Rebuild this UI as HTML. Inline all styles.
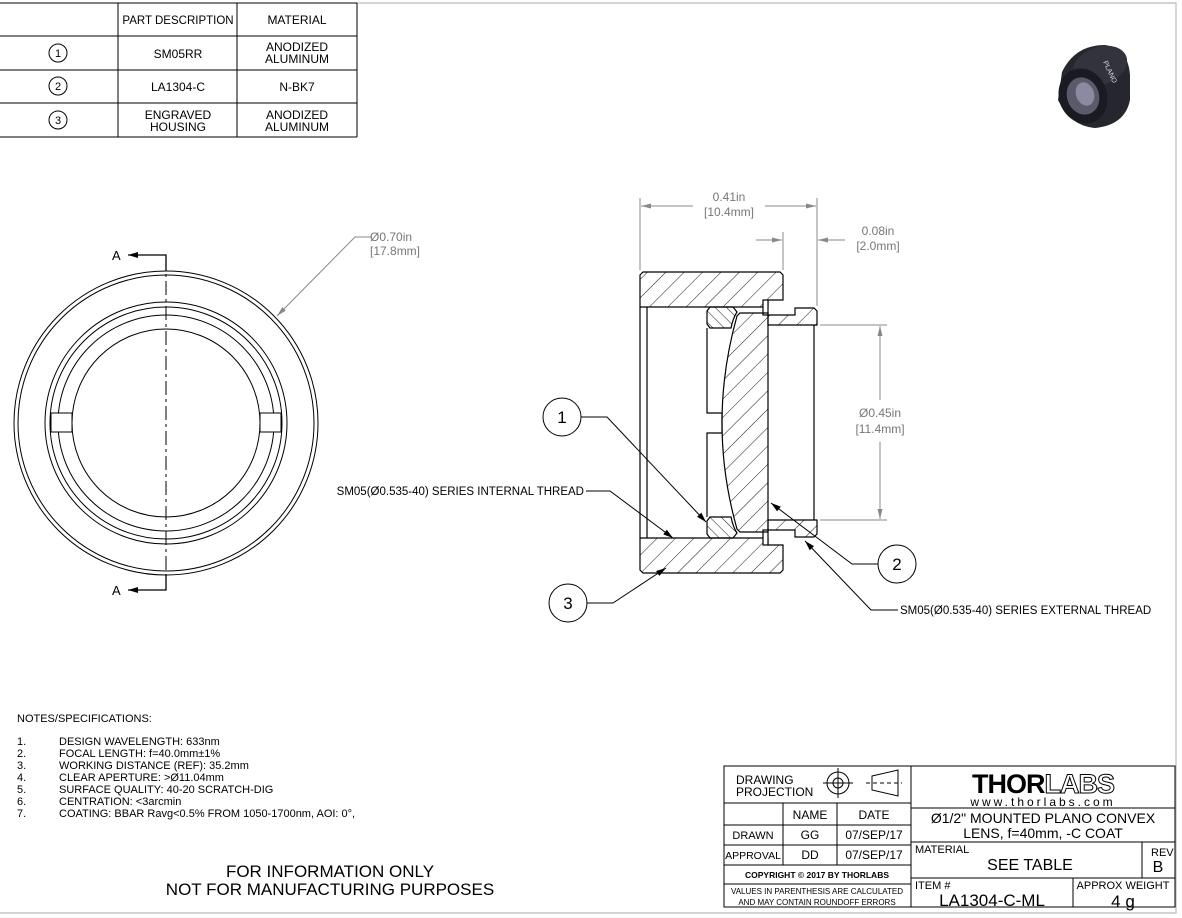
<!DOCTYPE html>
<html><head><meta charset="utf-8"><style>
html,body{margin:0;padding:0;background:#fff;}
svg{display:block;font-family:"Liberation Sans",sans-serif;}
</style></head><body>
<svg width="1182" height="918" viewBox="0 0 1182 918" xmlns="http://www.w3.org/2000/svg">
<defs>
<pattern id="h1" patternUnits="userSpaceOnUse" width="13" height="13" patternTransform="rotate(45)">
<line x1="0" y1="0" x2="0" y2="13" stroke="#000" stroke-width="0.9"/></pattern>
<pattern id="h2" patternUnits="userSpaceOnUse" width="8" height="8" patternTransform="rotate(-45)">
<line x1="0" y1="0" x2="0" y2="8" stroke="#000" stroke-width="0.9"/></pattern>
<marker id="ar" viewBox="0 0 10 6" refX="10" refY="3" markerWidth="10" markerHeight="6" orient="auto" markerUnits="userSpaceOnUse"><path d="M0,0 L10,3 L0,6 z" fill="#000"/></marker>
<marker id="ag" viewBox="0 0 12 6" refX="12" refY="3" markerWidth="12" markerHeight="5" orient="auto" markerUnits="userSpaceOnUse"><path d="M0,0 L12,3 L0,6 z" fill="#888"/></marker>
</defs>
<polyline points="357,3 1176,3 1176,913 0,913" fill="none" stroke="#bbb" stroke-width="1.2"/>
<g stroke="#000" stroke-width="1" fill="none">
<line x1="0" y1="3" x2="357" y2="3"/><line x1="0" y1="36" x2="357" y2="36"/><line x1="0" y1="70" x2="357" y2="70"/><line x1="0" y1="103" x2="357" y2="103"/><line x1="0" y1="137" x2="357" y2="137"/>
<line x1="118" y1="3" x2="118" y2="137"/><line x1="237" y1="3" x2="237" y2="137"/><line x1="357" y1="3" x2="357" y2="137"/>
<circle cx="58" cy="53" r="9"/><circle cx="58" cy="86" r="9"/><circle cx="58" cy="120" r="9"/>
</g>
<g font-size="12" text-anchor="middle" fill="#000">
<text x="58" y="57" font-size="11">1</text><text x="58" y="90" font-size="11">2</text><text x="58" y="124" font-size="11">3</text>
<text x="178" y="24" font-size="11.5">PART DESCRIPTION</text><text x="297" y="24">MATERIAL</text>
<text x="178" y="58">SM05RR</text><text x="297" y="51">ANODIZED</text><text x="297" y="63">ALUMINUM</text>
<text x="178" y="91">LA1304-C</text><text x="297" y="91">N-BK7</text>
<text x="178" y="119">ENGRAVED</text><text x="178" y="131">HOUSING</text><text x="297" y="119">ANODIZED</text><text x="297" y="131">ALUMINUM</text>
</g>
<!-- iso image -->
<g>
<path d="M1062,72 Q1075,45 1105,45 Q1128,48 1130,75 L1130,100 Q1125,125 1095,128 Q1070,126 1058,100 Z" fill="#26262e"/>
<ellipse cx="1100" cy="66" rx="28" ry="19" fill="#33333d" transform="rotate(-20 1100 66)"/>
<ellipse cx="1083" cy="96" rx="24" ry="28" fill="#1a1a22" transform="rotate(-20 1083 96)"/>
<ellipse cx="1083" cy="96" rx="16" ry="19" fill="#5a5a6a" transform="rotate(-20 1083 96)"/>
<ellipse cx="1085" cy="94" rx="9" ry="12" fill="#8a8aa0" transform="rotate(-20 1085 94)"/>
<text x="1103" y="62" font-size="7" fill="#ddd" transform="rotate(65 1103 62)">PLANO</text>
</g>
<g stroke="#000" stroke-width="1" fill="none">
<circle cx="166" cy="423" r="152"/><circle cx="166" cy="423" r="148"/>
<circle cx="166" cy="423" r="121"/><circle cx="166" cy="423" r="116"/><circle cx="166" cy="423" r="108"/><circle cx="166" cy="423" r="94"/>
<rect x="51" y="413" width="21" height="19" fill="#fff"/><rect x="260" y="413" width="21" height="19" fill="#fff"/>
<line x1="166" y1="256" x2="166" y2="590" stroke-dasharray="14,4,3,4"/>
<polyline points="166,271 166,255 128,255" marker-end="url(#ar)" stroke-width="1.3"/>
<polyline points="166,575 166,590 128,590" marker-end="url(#ar)" stroke-width="1.3"/>
</g>
<text x="112" y="260" font-size="13">A</text><text x="112" y="595" font-size="13">A</text>
<polyline points="372,237 355,237 277,316" fill="none" stroke="#888" marker-end="url(#ag)"/>
<text x="370" y="241" font-size="12" fill="#777">Ø0.70in</text><text x="370" y="255" font-size="12" fill="#777">[17.8mm]</text>
<g stroke="#000" stroke-width="1.2">
<polygon points="640,275 643,272 780,272 783,275 783,300 768,300 768,307 640,307" fill="url(#h1)"/>
<polygon points="640,570 643,573 780,573 783,570 783,545 768,545 768,538 640,538" fill="url(#h1)"/>
<polygon points="768,315 795,315 795,308 814,308 817,311 817,325 768,325" fill="url(#h1)"/>
<polygon points="768,530 795,530 795,537 814,537 817,534 817,520 768,520" fill="url(#h1)"/>
<rect x="763" y="300" width="5" height="15" fill="#fff"/><rect x="763" y="530" width="5" height="15" fill="#fff"/>
<path d="M740,313 L768,313 L768,532 L740,532 L737,529 Q707,423 737,316 Z" fill="url(#h1)"/>
<path d="M710,307 L733,307 L737,312 Q733,318 731,328 L710,328 L707,324 L707,311 Z" fill="url(#h2)"/>
<path d="M710,538 L733,538 L737,533 Q733,527 731,517 L710,517 L707,521 L707,534 Z" fill="url(#h2)"/>
<polyline points="707,328 707,413 722,413 722,433 707,433 707,517" fill="none"/>
<line x1="640" y1="307" x2="640" y2="538"/><line x1="647" y1="307" x2="647" y2="538"/>
<line x1="814" y1="325" x2="814" y2="520"/>
</g>
<g stroke="#888" stroke-width="1" fill="none">
<line x1="640" y1="198" x2="640" y2="270"/><line x1="817" y1="198" x2="817" y2="306"/><line x1="783" y1="232" x2="783" y2="270"/>
<line x1="693" y1="206" x2="641" y2="206" marker-end="url(#ag)"/><line x1="765" y1="206" x2="816" y2="206" marker-end="url(#ag)"/>
<line x1="756" y1="240" x2="782" y2="240" marker-end="url(#ag)"/><line x1="845" y1="240" x2="818" y2="240" marker-end="url(#ag)"/>
<line x1="820" y1="325" x2="887" y2="325"/><line x1="820" y1="520" x2="887" y2="520"/>
<line x1="880" y1="400" x2="880" y2="326" marker-end="url(#ag)"/><line x1="880" y1="442" x2="880" y2="519" marker-end="url(#ag)"/>
</g>
<g font-size="12" fill="#777" text-anchor="middle">
<text x="729" y="201">0.41in</text><text x="729" y="216">[10.4mm]</text>
<text x="878" y="235">0.08in</text><text x="878" y="250">[2.0mm]</text>
<text x="880" y="417">Ø0.45in</text><text x="880" y="433">[11.4mm]</text>
</g>
<g stroke="#000" stroke-width="1" fill="none">
<circle cx="562" cy="417" r="19"/><circle cx="897" cy="564" r="19"/><circle cx="568" cy="603" r="19"/>
<polyline points="581,417 607,417 706,522" marker-end="url(#ar)"/>
<polyline points="586,491 610,491 673,538" marker-end="url(#ar)"/>
<polyline points="878,564 852,564 771,503" marker-end="url(#ar)"/>
<polyline points="587,603 613,603 666,568" marker-end="url(#ar)"/>
<polyline points="898,610 871,610 805,541" marker-end="url(#ar)"/>
</g>
<g font-size="17" text-anchor="middle"><text x="562" y="423">1</text><text x="897" y="570">2</text><text x="568" y="609">3</text></g>
<text x="584" y="495" font-size="11.5" text-anchor="end">SM05(Ø0.535-40) SERIES INTERNAL THREAD</text>
<text x="900" y="614" font-size="11.5">SM05(Ø0.535-40) SERIES EXTERNAL THREAD</text>
<g font-size="11">
<text x="17" y="722">NOTES/SPECIFICATIONS:</text>
<text x="17" y="745">1.</text><text x="59" y="745">DESIGN WAVELENGTH: 633nm</text>
<text x="17" y="757">2.</text><text x="59" y="757">FOCAL LENGTH: f=40.0mm±1%</text>
<text x="17" y="769">3.</text><text x="59" y="769">WORKING DISTANCE (REF): 35.2mm</text>
<text x="17" y="781">4.</text><text x="59" y="781">CLEAR APERTURE: &gt;Ø11.04mm</text>
<text x="17" y="793">5.</text><text x="59" y="793">SURFACE QUALITY: 40-20 SCRATCH-DIG</text>
<text x="17" y="805">6.</text><text x="59" y="805">CENTRATION: &lt;3arcmin</text>
<text x="17" y="817">7.</text><text x="59" y="817">COATING: BBAR Ravg&lt;0.5% FROM 1050-1700nm, AOI: 0°,</text>
</g>
<g font-size="17" text-anchor="middle"><text x="330" y="877">FOR INFORMATION ONLY</text><text x="330" y="895">NOT FOR MANUFACTURING PURPOSES</text></g>
<g stroke="#000" stroke-width="1" fill="none">
<rect x="724" y="766" width="451" height="141"/>
<line x1="911" y1="766" x2="911" y2="907"/>
<line x1="724" y1="803" x2="911" y2="803"/><line x1="724" y1="825" x2="911" y2="825"/><line x1="724" y1="845" x2="911" y2="845"/><line x1="724" y1="865" x2="911" y2="865"/><line x1="724" y1="884" x2="911" y2="884"/>
<line x1="783" y1="803" x2="783" y2="865"/><line x1="837" y1="803" x2="837" y2="865"/>
<line x1="911" y1="808" x2="1175" y2="808"/><line x1="911" y1="842" x2="1175" y2="842"/><line x1="911" y1="878" x2="1175" y2="878"/>
<line x1="1142" y1="842" x2="1142" y2="878"/><line x1="1073" y1="878" x2="1073" y2="907"/>
<circle cx="838" cy="783" r="11"/><circle cx="838" cy="783" r="5"/><line x1="823" y1="783" x2="853" y2="783"/><line x1="838" y1="768" x2="838" y2="798"/>
<path d="M872,776 L898,770 L898,796 L872,790 Z"/><line x1="866" y1="783" x2="902" y2="783" stroke-dasharray="4,3"/>
</g>
<g font-size="12">
<text x="736" y="784">DRAWING</text><text x="736" y="796">PROJECTION</text>
<text x="810" y="819" text-anchor="middle">NAME</text><text x="874" y="819" text-anchor="middle">DATE</text>
<text x="753" y="839" text-anchor="middle" font-size="11">DRAWN</text><text x="810" y="839" text-anchor="middle">GG</text><text x="874" y="839" text-anchor="middle">07/SEP/17</text>
<text x="753" y="859" text-anchor="middle" font-size="10.5">APPROVAL</text><text x="810" y="859" text-anchor="middle">DD</text><text x="874" y="859" text-anchor="middle">07/SEP/17</text>
<text x="817" y="878" text-anchor="middle" font-size="8.5" font-weight="bold">COPYRIGHT © 2017 BY THORLABS</text>
<text x="817" y="894" text-anchor="middle" font-size="8">VALUES IN PARENTHESIS ARE CALCULATED</text>
<text x="817" y="905" text-anchor="middle" font-size="8">AND MAY CONTAIN ROUNDOFF ERRORS</text>
<text x="1043" y="793" text-anchor="middle" font-size="27" font-weight="bold" letter-spacing="-1">THOR<tspan fill="#fff" stroke="#000" stroke-width="1">LABS</tspan></text>
<text x="1043" y="806" text-anchor="middle" font-size="12" letter-spacing="3">www.thorlabs.com</text>
<text x="1043" y="823" text-anchor="middle" font-size="14">Ø1/2" MOUNTED PLANO CONVEX</text>
<text x="1043" y="838" text-anchor="middle" font-size="14">LENS, f=40mm, -C COAT</text>
<text x="915" y="853" font-size="11">MATERIAL</text>
<text x="1030" y="870" text-anchor="middle" font-size="16">SEE TABLE</text>
<text x="1151" y="856" font-size="11">REV</text><text x="1158" y="872" text-anchor="middle" font-size="16">B</text>
<text x="915" y="889" font-size="11">ITEM #</text>
<text x="992" y="906" text-anchor="middle" font-size="17">LA1304-C-ML</text>
<text x="1123" y="889" text-anchor="middle" font-size="11">APPROX WEIGHT</text>
<text x="1123" y="907" text-anchor="middle" font-size="17">4 g</text>
</g>
</svg>
</body></html>
